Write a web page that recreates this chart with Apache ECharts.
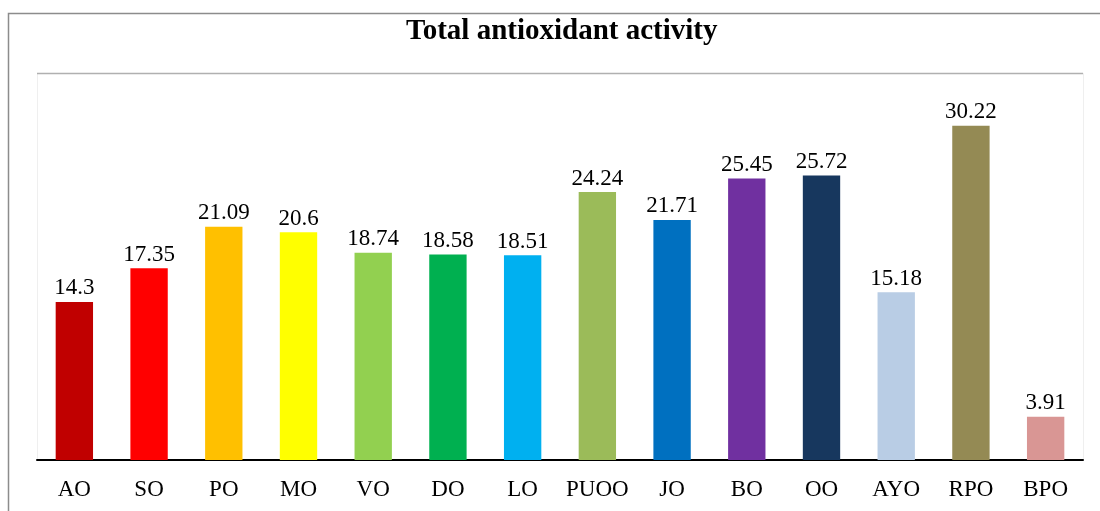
<!DOCTYPE html>
<html>
<head>
<meta charset="utf-8">
<script src="https://cdn.jsdelivr.net/npm/echarts@6/dist/echarts.min.js"></script>
<style>html,body{margin:0;padding:0;background:#fff}#c{width:1100px;height:511px}</style>
</head>
<body>
<div id="c"></div>
<script>
var categories = ['AO','SO','PO','MO','VO','DO','LO','PUOO','JO','BO','OO','AYO','RPO','BPO'];
var values = [14.3, 17.35, 21.09, 20.6, 18.74, 18.58, 18.51, 24.24, 21.71, 25.45, 25.72, 15.18, 30.22, 3.91];
var labels = ['14.3','17.35','21.09','20.6','18.74','18.58','18.51','24.24','21.71','25.45','25.72','15.18','30.22','3.91'];
var colors = ['#C00000','#FF0000','#FFC000','#FFFF00','#92D050','#00B050','#00B0F0','#9BBB59','#0070C0','#7030A0','#17375E','#B9CDE5','#948A54','#D99694'];

var chart = echarts.init(document.getElementById('c'), null, {renderer:'canvas'});
var font = '"Liberation Serif","Times New Roman",serif';
chart.setOption({
  animation: false,
  backgroundColor: '#fff',
  title: {
    text: 'Total antioxidant activity',
    left: 401, top: 12,
    textStyle: {fontFamily: font, fontWeight: 'bold', fontSize: 29, color: '#000'}
  },
  graphic: [
    {type:'rect', shape:{x:8.5,y:13.5,width:1200,height:600}, style:{fill:'none', stroke:'#8c8c8c', lineWidth:1.5}, silent:true},
    {type:'rect', shape:{x:37.5,y:73.5,width:1046,height:387}, style:{fill:'none', stroke:'#efefef', lineWidth:1}, silent:true},
    {type:'line', shape:{x1:37,y1:73.5,x2:1083,y2:73.5}, style:{stroke:'#b0b0b0', lineWidth:1.5}, silent:true}
  ],
  grid: {left: 37, right: 17, top: 73, bottom: 51, containLabel: false},
  xAxis: {
    type: 'category', data: categories,
    axisLine: {show: true, lineStyle: {color: '#000', width: 2}},
    axisTick: {show: false},
    axisLabel: {interval: 0, fontFamily: font, fontSize: 23, color: '#000', margin: 18}
  },
  yAxis: {
    type: 'value', min: 0, max: 35,
    axisLine: {show:false}, axisTick:{show:false}, axisLabel:{show:false}, splitLine:{show:false}
  },
  series: [{
    type: 'bar',
    barWidth: '50%',
    data: values.map(function(v,i){return {value:v, itemStyle:{color:colors[i]}};}),
    label: {
      show: true, position: 'top', distance: 2,
      fontFamily: font, fontSize: 23, color: '#000',
      formatter: function(p){return labels[p.dataIndex];}
    }
  }]
});
</script>
</body>
</html>
